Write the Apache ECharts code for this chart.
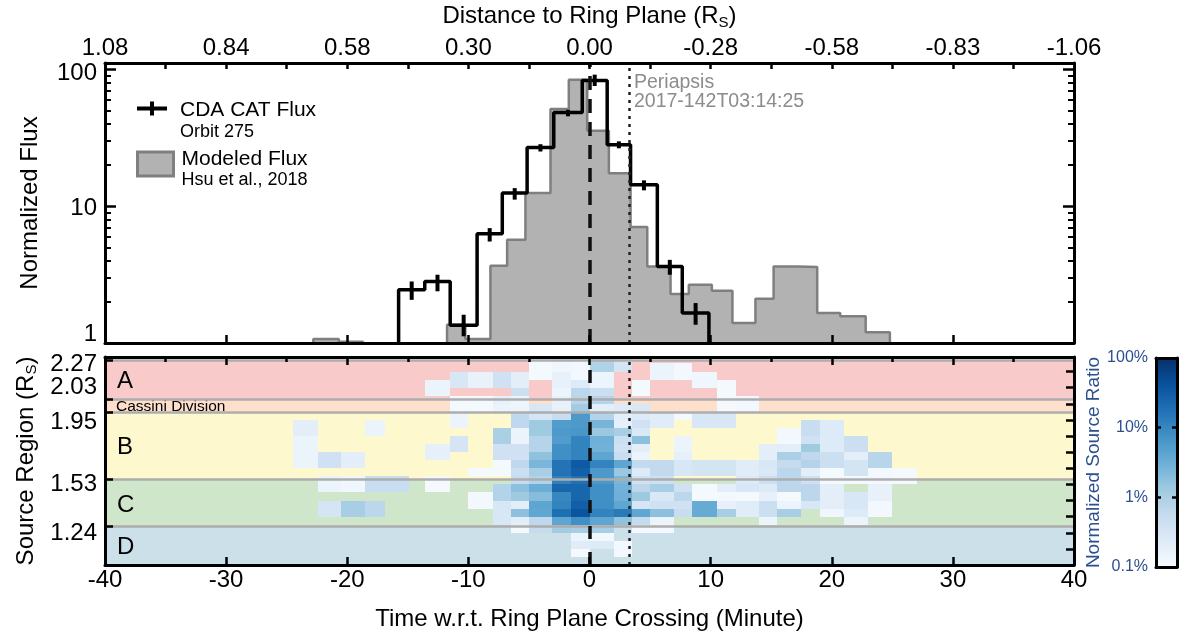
<!DOCTYPE html>
<html>
<head>
<meta charset="utf-8">
<script src="https://cdn.jsdelivr.net/npm/echarts@6/dist/echarts.min.js"></script>
<style>
  html, body { margin: 0; padding: 0; background: #fff; }
  #chart { width: 1184px; height: 637px; }
</style>
</head>
<body>
<div id="chart"></div>
<script>
const FONT = '"Liberation Sans", Arial, Helvetica, sans-serif';

// Time axis (minutes relative to the ring plane crossing) and distance labels on top
const timeTicks = [-40, -30, -20, -10, 0, 10, 20, 30, 40];
const distanceLabels = ['1.08', '0.84', '0.58', '0.30', '0.00', '-0.28', '-0.58', '-0.83', '-1.06'];

// CDA CAT flux, orbit 275 (bin edges in minutes)
const cdaEdges = [-15.76, -13.6, -11.5, -9.28, -7.2, -5.15, -2.95, -0.6, 1.46, 3.39, 5.6, 7.66, 9.86];
const cdaFlux = [2.45, 2.82, 1.35, 6.3, 12.5, 27, 48.6, 83.4, 28.3, 14.4, 3.63, 1.66];
const cdaErrLow = [2.07, 2.39, 1.12, 5.53, 11.2, 25.2, 45.6, 76, 26.6, 13.1, 3.16, 1.36];
const cdaErrHigh = [2.82, 3.16, 1.61, 6.93, 13.6, 28.5, 50.9, 92, 29.9, 15.5, 4.06, 1.96];

// Modeled flux (Hsu et al., 2018); null marks a bin with no modeled flux
const modelEdges = [-22.8, -20.7, -18.7, -11.76, -10.25, -8.18, -6.8, -5.29, -3.22, -1.71, -0.19, 1.6,
                    3.39, 4.77, 6.69, 8.2, 10.1, 11.8, 13.7, 15.2, 17.2, 18.8, 20.7, 22.8, 24.8];
const modelFlux = [1.07, 1.02, null, 1.36, 1.07, 3.67, 5.7, 12.5, 51.5, 84.4, 35.7, 17.5,
                   7.05, 3.63, 2.28, 2.67, 2.41, 1.40, 2.11, 3.63, 3.6, 1.66, 1.57, 1.2];

const fluxMajorTicks = [1, 10, 100];
const fluxMinorTicks = [2, 3, 4, 5, 6, 7, 8, 9, 20, 30, 40, 50, 60, 70, 80, 90];

const crossingMin = 0;
const periapsisMin = 3.3;
const periapsisLabel = ['Periapsis', '2017-142T03:14:25'];

// Source regions of the main rings
const regionNames = ['A', 'Cassini Division', 'B', 'C', 'D'];
const regionLow = [2.03, 1.95, 1.53, 1.24, 1.0];
const regionHigh = [2.27, 2.03, 1.95, 1.53, 1.24];
const regionColors = ['#F9CACA', '#FDDFCC', '#FDF8CE', '#D0E6CB', '#CCE0EA'];
const regionTicks = [2.27, 2.03, 1.95, 1.53, 1.24];
// boundary labels: the two close ones are nudged apart (up / down) so they stay readable
const regionLabelsPlain = [2.27, 1.53, 1.24];
const regionLabelsUp = [2.03];
const regionLabelsDown = [1.95];
const radiusRightTicks = [1.1, 1.2, 1.3, 1.4, 1.5, 1.6, 1.7, 1.8, 1.9, 2.0, 2.1, 2.2];

// Normalized source ratio (%) per time bin and radial bin
const cellTimeEdges = [-24.5, -22.4, -20.5, -18.5, -16.9, -14.9, -13.55, -11.5, -10.0, -8.0, -6.5, -5.0,
                       -3.1, -1.5, 0, 2.0, 3.5, 5.0, 7.0, 8.5, 10.5, 12.1, 14.0, 15.5, 17.5, 19.0,
                       21.0, 23.0, 25.0, 27.0];
const cellRadiusEdges = [1.05, 1.10, 1.15, 1.20, 1.25, 1.30, 1.35, 1.40, 1.45, 1.50, 1.55, 1.60, 1.65,
                         1.70, 1.75, 1.80, 1.85, 1.90, 1.95, 2.00, 2.05, 2.10, 2.15, 2.20, 2.25, 2.30];
// rows listed from the outermost radial bin (2.25-2.30) down to 1.05-1.10; 0 = no dust
const sourceRatio = [
  [0,0,0,0,0,0,0,0,0,0,0,.11,.13,.13,.9,.35,0,0,0,0,0,0,0,0,0,0,0,0,0],
  [0,0,0,0,0,0,0,0,0,0,0,.11,.13,.12,.9,.35,0,.15,.12,0,0,0,0,0,0,0,0,0,0],
  [0,0,0,0,0,0,0,.3,.16,.4,.2,.11,.17,.12,.14,0,0,.15,.12,.13,0,0,0,0,0,0,0,0,0],
  [0,0,0,0,0,0,.15,.3,.16,.4,.2,0,.17,.25,.14,0,.11,0,0,.13,.11,0,0,0,0,0,0,0,0],
  [0,0,0,0,0,0,.15,0,0,0,.45,0,.14,.7,.45,0,.11,0,0,0,.11,0,0,0,0,0,0,0,0],
  [0,0,0,0,0,0,0,.11,.11,.17,.14,0,.17,.75,.8,0,0,0,0,0,.11,.12,0,0,0,0,0,0,0],
  [0,0,0,0,0,0,0,.11,.11,.15,.14,.3,.17,1.2,.2,.25,.3,0,0,0,.11,.12,0,0,0,0,0,0,0],
  [0,0,0,0,0,0,0,.15,0,0,.65,.32,.5,6,.85,.2,.25,.22,.11,.3,.3,0,0,0,0,0,0,0,0],
  [.2,0,0,.15,0,0,0,.15,0,0,.65,1.3,5.5,6,2.6,.18,.4,.22,0,.3,.3,0,0,0,.5,.25,0,0,0],
  [.2,0,0,.15,0,0,0,0,0,1.0,.15,1.3,6,6.5,1.4,1.1,.28,0,0,0,0,0,0,.12,.5,.25,0,0,0],
  [.15,0,0,0,0,0,0,.32,0,1.0,.15,.8,5.5,11,3.0,.45,1.8,0,.15,0,0,0,0,.12,.4,.25,.45,0,0],
  [.15,0,0,0,0,0,.18,.32,0,.4,.4,.8,8,11,2.8,.4,.2,0,.15,0,0,0,.2,.2,1.3,.25,.45,0,0],
  [.15,.4,.2,0,0,0,.18,0,0,.4,.4,1.7,8,11,4.2,.5,.15,0,.18,0,0,0,.2,1.0,.65,.45,.2,.75,0],
  [.15,.4,.2,0,0,0,0,0,0,.11,.65,2.5,17,33,11,4.2,.6,.6,.3,.35,.35,.22,.3,.55,.85,.45,.35,.75,0],
  [0,0,0,0,0,0,0,0,.11,.11,.45,1.1,17,28,6,1.4,.25,.6,.3,.35,.35,.22,.28,.7,.2,.11,.35,.12,.11],
  [0,.15,.13,.5,.5,0,.11,0,0,0,.55,.85,12,18,6,2.5,.4,.42,0,0,0,.25,.45,.7,.42,.11,.11,.12,.11],
  [0,.15,.13,.5,.5,0,.11,0,0,.85,1.8,3.2,24,24,8,2.8,.7,1.1,.4,.11,.2,.3,.25,.7,.7,.2,0,.17,0],
  [0,0,0,0,0,0,0,0,.12,.85,1.35,2.0,10,24,8,3.0,1.35,.28,.7,.11,.12,.11,.18,.11,.7,.2,.3,.17,0],
  [0,.33,1.1,.7,0,0,0,0,.12,.3,.2,4.2,11,29,8,4,.32,.4,.4,3.5,.17,.22,.45,.15,.3,.2,.3,.12,0],
  [0,.33,1.1,.7,0,0,0,0,0,.3,1.8,4,19,38,11,14,4,1.8,.5,3.5,1.1,.22,.45,1.1,0,.13,.25,.12,0],
  [0,0,0,0,0,0,0,0,0,.3,.2,.65,4.2,8,4.2,1.7,.55,.15,0,0,0,0,.15,0,0,0,.15,0,0],
  [0,0,0,0,0,0,0,0,0,0,.11,.55,1.2,1.1,1.1,0,.12,.12,0,0,0,0,0,0,0,0,0,0,0],
  [0,0,0,0,0,0,0,0,0,0,0,0,0,.15,.12,0,0,0,0,0,0,0,0,0,0,0,0,0,0],
  [0,0,0,0,0,0,0,0,0,0,0,0,0,.22,.25,.12,0,0,0,0,0,0,0,0,0,0,0,0,0],
  [0,0,0,0,0,0,0,0,0,0,0,0,0,.11,0,.12,0,0,0,0,0,0,0,0,0,0,0,0,0]
];

// Colour bar (log scale, percent)
const ratioTicks = [0.1, 1, 10, 100];
const ratioLabels = ['0.1%', '1%', '10%', '100%'];
const blues = ['#f7fbff', '#deebf7', '#c6dbef', '#9ecae1', '#6baed6', '#4292c6', '#2171b5', '#08519c', '#08306b'];

// ---------- derived series data ----------
function stepLine(edges, values, floor) {
  const pts = [];
  let open = false;
  values.forEach((v, i) => {
    if (v == null) {
      if (open) { pts.push([edges[i], floor]); pts.push([edges[i], '-']); open = false; }
      return;
    }
    if (!open) { pts.push([edges[i], floor]); open = true; }
    pts.push([edges[i], v], [edges[i + 1], v]);
  });
  if (open) pts.push([edges[values.length], floor]);
  return pts;
}

const errorBarData = cdaFlux.map((v, i) => [(cdaEdges[i] + cdaEdges[i + 1]) / 2, cdaErrLow[i], cdaErrHigh[i]]);

const nRows = sourceRatio.length;
const cellData = [];
sourceRatio.forEach((row, r) => {
  const lo = cellRadiusEdges[nRows - 1 - r];
  const hi = cellRadiusEdges[nRows - r];
  row.forEach((v, c) => {
    if (v > 0) cellData.push([cellTimeEdges[c], cellTimeEdges[c + 1], lo, hi, v, Math.log10(v)]);
  });
});

const bandData = regionNames.map((n, i) => [regionLow[i], regionHigh[i], i]);

// ---------- renderers ----------
function renderErrorBar(params, api) {
  const a = api.coord([api.value(0), api.value(1)]);
  const b = api.coord([api.value(0), api.value(2)]);
  return { type: 'line', shape: { x1: a[0], y1: a[1], x2: b[0], y2: b[1] },
           style: { stroke: '#000', lineWidth: 4 } };
}

function clipToGrid(shape, cs) {
  return echarts.graphic.clipRectByRect(shape, { x: cs.x, y: cs.y, width: cs.width, height: cs.height });
}

function renderCell(params, api) {
  const p0 = api.coord([api.value(0), api.value(3)]);
  const p1 = api.coord([api.value(1), api.value(2)]);
  const x0 = Math.round(p0[0]), y0 = Math.round(p0[1]);
  const x1 = Math.round(p1[0]), y1 = Math.round(p1[1]);
  const shape = clipToGrid({ x: x0, y: y0, width: x1 - x0, height: y1 - y0 }, params.coordSys);
  return shape && { type: 'rect', shape: shape, style: { fill: api.visual('color') } };
}

function renderBand(params, api) {
  const cs = params.coordSys;
  const top = api.coord([0, api.value(1)])[1];
  const bottom = api.coord([0, api.value(0)])[1];
  const idx = api.value(2);
  const name = regionNames[idx];
  const small = name.length > 1;
  return {
    type: 'group',
    children: [
      { type: 'rect', shape: { x: cs.x, y: top, width: cs.width, height: bottom - top },
        style: { fill: regionColors[idx] } },
      { type: 'text', z2: 1,
        style: { text: name, x: cs.x + (small ? 11 : 12), y: (top + bottom) / 2 + (small ? 1 : 2),
                 verticalAlign: 'middle', align: 'left', fill: '#000',
                 font: (small ? '15.5px ' : '24px ') + FONT } }
    ]
  };
}

function renderColorBar(params, api) {
  const p0 = api.coord([api.value(0), api.value(3)]);
  const p1 = api.coord([api.value(1), api.value(2)]);
  const stops = blues.map((c, i) => ({ offset: i / (blues.length - 1), color: c }));
  return { type: 'rect', shape: { x: p0[0], y: p0[1], width: p1[0] - p0[0], height: p1[1] - p0[1] },
           style: { fill: new echarts.graphic.LinearGradient(0, 1, 0, 0, stops) } };
}

// ---------- axes helpers ----------
const black = '#000';
const frameLine = { show: true, onZero: false, lineStyle: { color: black, width: 3 } };
const noLine = { show: false, onZero: false };
const textBase = { fontFamily: FONT, color: black };

function timeAxis(grid, position, opts) {
  return Object.assign({
    type: 'value', gridIndex: grid, position: position, min: -40, max: 40, interval: 10, z: 10,
    axisLine: frameLine, splitLine: { show: false },
    axisTick: { show: true, inside: true, length: 8, lineStyle: { color: black, width: 2.5 } },
    axisLabel: { show: false }
  }, opts);
}

// extra label-only axis on the left of the source-region panel
function regionLabelAxis(values, padding) {
  return {
    type: 'value', gridIndex: 1, position: 'left', min: 1.0, max: 2.29, z: 10,
    axisLine: noLine, splitLine: { show: false }, axisTick: { show: false },
    axisLabel: { show: true, interval: 0, customValues: values, fontSize: 24, margin: 8, color: black,
                 fontFamily: FONT, formatter: v => '{s|' + v.toFixed(2) + '}',
                 rich: { s: { fontSize: 24, padding: padding } } }
  };
}

const plusIcon = 'path://M0,5 L30,5 L30,9 L0,9 Z M13,0 L17,0 L17,14 L13,14 Z';

const option = {
  animation: false,
  textStyle: { fontFamily: FONT },
  grid: [
    { left: 105, top: 63, width: 969, height: 280 },
    { left: 105, top: 357, width: 969, height: 208 },
    { left: 1156, top: 358, width: 21, height: 209 }
  ],
  legend: [
    {
      selectedMode: false, orient: 'vertical', left: 132, top: 95, itemWidth: 30, itemHeight: 14,
      data: [{ name: 'CDA CAT Flux', icon: plusIcon, itemStyle: { color: black, borderWidth: 0 } }],
      formatter: () => '{a|CDA CAT Flux}\n{b|Orbit 275}',
      textStyle: { padding: [24, 0, 0, 8], rich: {
        a: { fontSize: 21, lineHeight: 23, color: black, fontFamily: FONT },
        b: { fontSize: 18, lineHeight: 20, color: black, fontFamily: FONT } } }
    },
    {
      selectedMode: false, orient: 'vertical', left: 131, top: 144, itemWidth: 36, itemHeight: 24,
      data: [{ name: 'Modeled Flux', icon: 'rect',
               itemStyle: { color: '#B2B2B2', borderColor: '#7F7F7F', borderWidth: 3 } }],
      formatter: () => '{a|Modeled Flux}\n{b|Hsu et al., 2018}',
      textStyle: { padding: [11, 0, 0, 3], rich: {
        a: { fontSize: 21, lineHeight: 22, color: black, fontFamily: FONT },
        b: { fontSize: 18, lineHeight: 20, color: black, fontFamily: FONT } } }
    }
  ],
  visualMap: {
    type: 'continuous', show: false, seriesIndex: 4, dimension: 5, min: -1, max: 2,
    inRange: { color: blues }
  },
  xAxis: [
    timeAxis(0, 'bottom'),
    timeAxis(0, 'top', {
      axisTick: { show: true, inside: true, length: 6, lineStyle: { color: black, width: 2.5 } },
      minorTick: { show: true, splitNumber: 2, length: 6, lineStyle: { color: black, width: 2.5 } },
      axisLabel: { show: true, fontSize: 24, margin: 3, color: black, fontFamily: FONT,
                   formatter: v => { const i = timeTicks.indexOf(v); return i >= 0 ? distanceLabels[i] : ''; } },
      name: 'Distance to Ring Plane (R{s|S})', nameLocation: 'middle', nameGap: 33,
      nameTextStyle: Object.assign({ fontSize: 24, rich: { s: { fontSize: 15, padding: [12, 0, 0, 0] } } }, textBase)
    }),
    timeAxis(1, 'bottom', {
      axisLabel: { show: true, fontSize: 24, margin: 3, color: black, fontFamily: FONT },
      name: 'Time w.r.t. Ring Plane Crossing (Minute)', nameLocation: 'middle', nameGap: 42,
      nameTextStyle: Object.assign({ fontSize: 24 }, textBase)
    }),
    timeAxis(1, 'top', {
      minorTick: { show: true, splitNumber: 2, length: 5, lineStyle: { color: black, width: 2.5 } }
    }),
    { type: 'value', gridIndex: 2, position: 'bottom', min: 0, max: 1, z: 10, axisLine: frameLine,
      axisTick: { show: false }, axisLabel: { show: false }, splitLine: { show: false } },
    { type: 'value', gridIndex: 2, position: 'top', min: 0, max: 1, z: 10, axisLine: frameLine,
      axisTick: { show: false }, axisLabel: { show: false }, splitLine: { show: false } }
  ],
  yAxis: [
    { type: 'log', gridIndex: 0, position: 'left', min: 1, max: 112, z: 10,
      axisLine: frameLine, splitLine: { show: false },
      axisTick: { show: true, inside: true, length: 11, customValues: fluxMajorTicks, lineStyle: { color: black, width: 2.5 } },
      axisLabel: { show: true, interval: 0, showMinLabel: true, showMaxLabel: true,
                   customValues: fluxMajorTicks, fontSize: 24, margin: 8, color: black, fontFamily: FONT,
                   formatter: v => v === 1 ? '{lo|1}' : (v === 100 ? '{hi|100}' : '{m|' + v + '}'),
                   rich: { lo: { fontSize: 24, padding: [0, 0, 18, 0] }, hi: { fontSize: 24, padding: [7, 0, 0, 0] },
                           m: { fontSize: 24, padding: [4, 0, 0, 0] } } },
      name: 'Normalized Flux', nameLocation: 'middle', nameGap: 63,
      nameTextStyle: Object.assign({ fontSize: 24 }, textBase) },
    { type: 'log', gridIndex: 0, position: 'left', min: 1, max: 112, z: 10,
      axisLine: noLine, splitLine: { show: false }, axisLabel: { show: false },
      axisTick: { show: true, inside: true, length: 6, customValues: fluxMinorTicks, lineStyle: { color: black, width: 2 } } },
    { type: 'log', gridIndex: 0, position: 'right', min: 1, max: 112, z: 10,
      axisLine: frameLine, splitLine: { show: false }, axisLabel: { show: false },
      axisTick: { show: true, inside: true, length: 11, customValues: fluxMajorTicks, lineStyle: { color: black, width: 2.5 } } },
    { type: 'log', gridIndex: 0, position: 'right', min: 1, max: 112, z: 10,
      axisLine: noLine, splitLine: { show: false }, axisLabel: { show: false },
      axisTick: { show: true, inside: true, length: 6, customValues: fluxMinorTicks, lineStyle: { color: black, width: 2 } } },
    { type: 'value', gridIndex: 1, position: 'left', min: 1.0, max: 2.29, z: 10,
      axisLine: frameLine, splitLine: { show: false },
      axisTick: { show: true, inside: true, length: 8, customValues: regionTicks, lineStyle: { color: black, width: 2.5 } },
      axisLabel: { show: true, interval: 0, showMinLabel: true, showMaxLabel: true,
                   customValues: regionLabelsPlain, fontSize: 24, margin: 8, color: black, fontFamily: FONT,
                   formatter: v => {
                     const t = v.toFixed(2);
                     return t === '1.24' ? '{dn2|1.24}' : '{n|' + t + '}';
                   },
                   rich: { n: { fontSize: 24, padding: [9, 0, 0, 0] },
                           dn2: { fontSize: 24, padding: [14, 0, 0, 0] } } },
      name: 'Source Region (R{s|S})', nameLocation: 'middle', nameGap: 63,
      nameTextStyle: Object.assign({ fontSize: 24, rich: { s: { fontSize: 15, padding: [12, 0, 0, 0] } } }, textBase) },
    { type: 'value', gridIndex: 1, position: 'right', min: 1.0, max: 2.29, z: 10,
      axisLine: frameLine, splitLine: { show: false }, axisLabel: { show: false },
      axisTick: { show: true, inside: true, length: 8, customValues: radiusRightTicks, lineStyle: { color: black, width: 2.5 } } },
    { type: 'log', gridIndex: 2, position: 'left', min: 0.1, max: 100, z: 10,
      axisLine: frameLine, splitLine: { show: false },
      axisTick: { show: true, inside: true, length: 5, customValues: [1, 10], lineStyle: { color: black, width: 2.5 } },
      axisLabel: { show: true, interval: 0, showMinLabel: true, showMaxLabel: true,
                   customValues: ratioTicks, fontSize: 16, margin: 8, color: '#2C4F8F', fontFamily: FONT,
                   formatter: v => { const i = ratioTicks.findIndex(t => Math.abs(t - v) < 1e-9); return i >= 0 ? ratioLabels[i] : ''; } },
      name: 'Normalized Source Ratio', nameLocation: 'middle', nameGap: 50,
      nameTextStyle: { fontSize: 19, color: '#2C4F8F', fontFamily: FONT } },
    { type: 'log', gridIndex: 2, position: 'right', min: 0.1, max: 100, z: 10,
      axisLine: frameLine, splitLine: { show: false }, axisLabel: { show: false },
      axisTick: { show: true, inside: true, length: 5, customValues: [1, 10], lineStyle: { color: black, width: 2.5 } } },
    regionLabelAxis(regionLabelsUp, [0, 0, 24, 0]),
    regionLabelAxis(regionLabelsDown, [22, 0, 0, 0])
  ],
  series: [
    { name: 'Modeled Flux', type: 'line', xAxisIndex: 0, yAxisIndex: 0, z: 2,
      data: stepLine(modelEdges, modelFlux, 1), symbol: 'none', showSymbol: false, color: '#7F7F7F',
      lineStyle: { color: '#7F7F7F', width: 2.5 },
      areaStyle: { color: '#B2B2B2', opacity: 1, origin: 'start' } },
    { name: 'CDA CAT Flux', type: 'line', xAxisIndex: 0, yAxisIndex: 0, z: 3,
      data: stepLine(cdaEdges, cdaFlux, 1), symbol: 'none', showSymbol: false, color: black,
      lineStyle: { color: black, width: 3.5 },
      markLine: {
        symbol: 'none', silent: true, label: { show: false },
        data: [
          { xAxis: crossingMin, lineStyle: { color: '#111', width: 3.5, type: [14, 9] } },
          { xAxis: periapsisMin, lineStyle: { color: '#222', width: 2.5, type: [3, 5] } }
        ]
      },
      markPoint: {
        symbol: 'circle', symbolSize: 1, itemStyle: { color: 'rgba(0,0,0,0)' }, silent: true,
        label: { show: true, position: 'right', distance: 4, color: '#8C8C8C', fontSize: 19.5,
                 lineHeight: 19, fontFamily: FONT, align: 'left',
                 formatter: periapsisLabel.join('\n') },
        data: [{ coord: [periapsisMin, 69] }]
      } },
    { name: 'CDA error', type: 'custom', xAxisIndex: 0, yAxisIndex: 0, z: 4,
      data: errorBarData, renderItem: renderErrorBar, encode: { x: 0, y: [1, 2] } },
    { name: 'Regions', type: 'custom', xAxisIndex: 2, yAxisIndex: 4, z: 1,
      data: bandData, renderItem: renderBand, encode: { y: [0, 1] },
      markLine: {
        symbol: 'none', silent: true, label: { show: false },
        lineStyle: { color: '#ADADAD', width: 2.5, type: 'solid' },
        data: regionTicks.map(v => ({ yAxis: v }))
      } },
    { name: 'Source ratio', type: 'custom', xAxisIndex: 2, yAxisIndex: 4, z: 2,
      data: cellData, renderItem: renderCell, encode: { x: [0, 1], y: [2, 3] },
      markLine: {
        symbol: 'none', silent: true, label: { show: false },
        data: [
          { xAxis: crossingMin, lineStyle: { color: '#111', width: 3.5, type: [13, 13] } },
          { xAxis: periapsisMin, lineStyle: { color: '#222', width: 2.5, type: [3, 5] } }
        ]
      } },
    { name: 'Colour bar', type: 'custom', xAxisIndex: 4, yAxisIndex: 6, z: 2,
      data: [[0, 1, 0.1, 100]], renderItem: renderColorBar, encode: { x: [0, 1], y: [2, 3] } }
  ]
};

const chart = echarts.init(document.getElementById('chart'), null, { renderer: 'canvas' });
chart.setOption(option);
</script>
</body>
</html>
